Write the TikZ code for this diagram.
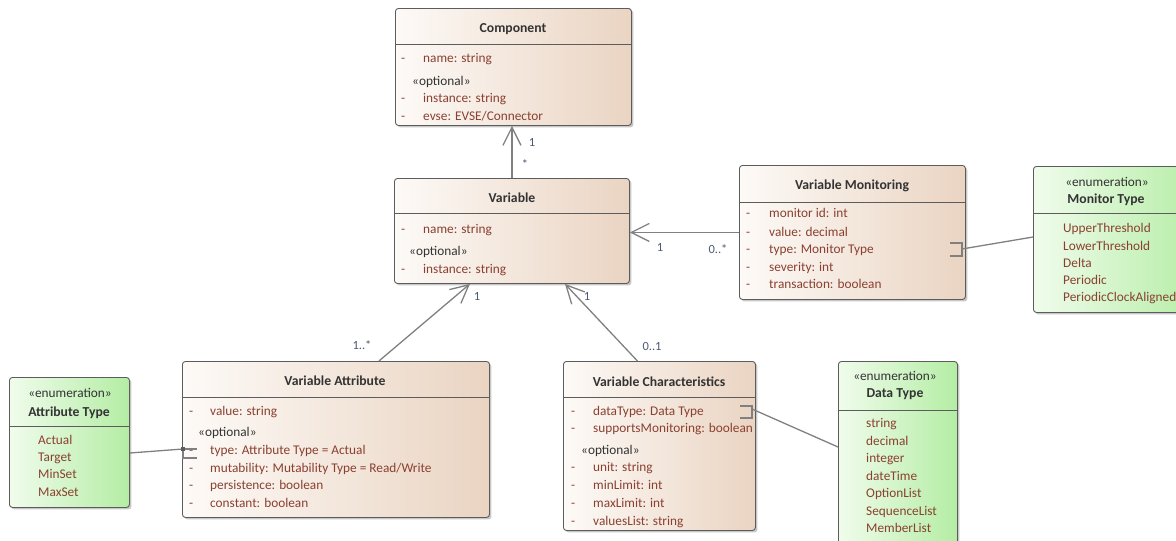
\documentclass[tikz,border=0pt]{standalone}
\usepackage{fontspec}
\setmainfont{Carlito}
\usetikzlibrary{arrows.meta,shadows}
\definecolor{clsL}{HTML}{FDFAF7}
\definecolor{clsR}{HTML}{EAD4C2}
\definecolor{enL}{HTML}{F0FCEC}
\definecolor{enR}{HTML}{B4EDA4}
\definecolor{bord}{HTML}{5C5C5C}
\definecolor{attrc}{HTML}{8A4030}
\definecolor{titc}{HTML}{333333}
\definecolor{linec}{HTML}{808080}
\definecolor{labc}{HTML}{4A5A72}
\begin{document}
\begin{tikzpicture}[x=1pt,y=-1pt,
  box/.style={draw=bord, line width=0.9pt, rounded corners=3pt, anchor=north west, inner sep=0pt,
    drop shadow={shadow xshift=2pt,shadow yshift=-2pt,fill=black,opacity=0.22}},
  cls/.style={box, left color=clsL, right color=clsR},
  enumbox/.style={box, left color=enL, right color=enR},
  sep/.style={draw=bord, line width=0.8pt},
  ttl/.style={font=\fontsize{13.7}{15}\selectfont\bfseries, text=titc, inner sep=0pt, anchor=base, yshift=-4.6pt},
  st/.style={font=\fontsize{13.3}{15}\selectfont, text=titc, inner sep=0pt, anchor=base, yshift=-4.4pt},
  stw/.style={st, anchor=base west},
  attrtxt/.style={font=\fontsize{13.3}{15}\selectfont, text=attrc, anchor=base west, inner sep=0pt, yshift=-4.4pt},
  assoc/.style={draw=linec, line width=1.3pt},
  arr/.style={assoc, -{Straight Barb[length=18pt,width=18pt,line width=1.3pt]}},
  mult/.style={font=\fontsize{12.5}{14}\selectfont, text=labc, inner sep=0pt}]
\useasboundingbox (0,0) rectangle (1176,541);
\clip (0,0) rectangle (1176,541);

% ---------- Component ----------
\node[cls, minimum width=236pt, minimum height=117pt] (comp) at (395,8) {};
\draw[sep] (comp.west |- 0,44) -- (comp.east |- 0,44);
\node[ttl] (compT) at (513,28) {Component};
\node[attrtxt] (compD1) at (401,58) {-};
\node[attrtxt] (compA1) at (423,58) {name: string};
\node[stw] (compO) at (412,81) {«optional»};
\node[attrtxt] (compD2) at (401,98) {-};
\node[attrtxt] (compA2) at (423,98) {instance: string};
\node[attrtxt] (compD3) at (401,116) {-};
\node[attrtxt] (compA3) at (423,116) {evse: EVSE/Connector};

% ---------- Variable ----------
\node[cls, minimum width=235pt, minimum height=105pt] (var) at (394,178) {};
\draw[sep] (var.west |- 0,213) -- (var.east |- 0,213);
\node[ttl] (varT) at (512,198) {Variable};
\node[attrtxt] (varD1) at (401,229) {-};
\node[attrtxt] (varA1) at (423,229) {name: string};
\node[stw] (varO) at (409,251) {«optional»};
\node[attrtxt] (varD2) at (401,269) {-};
\node[attrtxt] (varA2) at (423,269) {instance: string};

% ---------- Variable Monitoring ----------
\node[cls, minimum width=226pt, minimum height=134pt] (vm) at (739,165) {};
\draw[sep] (vm.west |- 0,202) -- (vm.east |- 0,202);
\node[ttl] (vmT) at (852,185) {Variable Monitoring};
\node[attrtxt] (vmD1) at (746,213) {-};
\node[attrtxt] (vmA1) at (769,213) {monitor id: int};
\node[attrtxt] (vmD2) at (746,232) {-};
\node[attrtxt] (vmA2) at (769,232) {value: decimal};
\node[attrtxt] (vmD3) at (746,249) {-};
\node[attrtxt] (vmA3) at (769,249) {type: Monitor Type};
\node[attrtxt] (vmD4) at (746,267) {-};
\node[attrtxt] (vmA4) at (769,267) {severity: int};
\node[attrtxt] (vmD5) at (746,284) {-};
\node[attrtxt] (vmA5) at (769,284) {transaction: boolean};

% ---------- Monitor Type ----------
\node[enumbox, minimum width=170pt, minimum height=146pt] (mt) at (1033,166) {};
\draw[sep] (mt.west |- 0,213) -- (1176,213);
\node[st] (mtS) at (1107,182) {«enumeration»};
\node[ttl] (mtT) at (1106,199) {Monitor Type};
\node[attrtxt] (mt1) at (1063,228) {UpperThreshold};
\node[attrtxt] (mt2) at (1063,246) {LowerThreshold};
\node[attrtxt] (mt3) at (1063,263) {Delta};
\node[attrtxt] (mt4) at (1063,280) {Periodic};
\node[attrtxt] (mt5) at (1063,297) {PeriodicClockAligned};

% ---------- Attribute Type ----------
\node[enumbox, minimum width=120pt, minimum height=130pt] (atyp) at (9,377) {};
\draw[sep] (atyp.west |- 0,426) -- (atyp.east |- 0,426);
\node[st] (atS) at (70,393) {«enumeration»};
\node[ttl] (atT) at (69,412) {Attribute Type};
\node[attrtxt] (at1) at (38,440) {Actual};
\node[attrtxt] (at2) at (38,457) {Target};
\node[attrtxt] (at3) at (38,474) {MinSet};
\node[attrtxt] (at4) at (38,492) {MaxSet};

% ---------- Variable Attribute ----------
\node[cls, minimum width=307pt, minimum height=156pt] (va) at (182,361) {};
\draw[sep] (va.west |- 0,397) -- (va.east |- 0,397);
\node[ttl] (vaT) at (335,381) {Variable Attribute};
\node[attrtxt] (vaD1) at (189,411) {-};
\node[attrtxt] (vaA1) at (210,411) {value: string};
\node[stw] (vaO) at (198,432) {«optional»};
\node[attrtxt] (vaD2) at (189,450) {-};
\node[attrtxt] (vaA2) at (210,450) {type: Attribute Type = Actual};
\node[attrtxt] (vaD3) at (189,468) {-};
\node[attrtxt] (vaA3) at (210,468) {mutability: Mutability Type = Read/Write};
\node[attrtxt] (vaD4) at (189,485) {-};
\node[attrtxt] (vaA4) at (210,485) {persistence: boolean};
\node[attrtxt] (vaD5) at (189,503) {-};
\node[attrtxt] (vaA5) at (210,503) {constant: boolean};

% ---------- Variable Characteristics ----------
\node[cls, minimum width=192pt, minimum height=169pt] (vc) at (563,361) {};
\draw[sep] (vc.west |- 0,397) -- (vc.east |- 0,397);
\node[ttl] (vcT) at (659,382) {Variable Characteristics};
\node[attrtxt] (vcD1) at (571,411) {-};
\node[attrtxt] (vcA1) at (593,411) {dataType: Data Type};
\node[attrtxt] (vcD2) at (571,428) {-};
\node[attrtxt] (vcA2) at (593,428) {supportsMonitoring: boolean};
\node[stw] (vcO) at (581,450) {«optional»};
\node[attrtxt] (vcD3) at (571,467) {-};
\node[attrtxt] (vcA3) at (593,467) {unit: string};
\node[attrtxt] (vcD4) at (571,485) {-};
\node[attrtxt] (vcA4) at (593,485) {minLimit: int};
\node[attrtxt] (vcD5) at (571,503) {-};
\node[attrtxt] (vcA5) at (593,503) {maxLimit: int};
\node[attrtxt] (vcD6) at (571,521) {-};
\node[attrtxt] (vcA6) at (593,521) {valuesList: string};

% ---------- Data Type ----------
\node[enumbox, minimum width=119pt, minimum height=200pt] (dt) at (838,361) {};
\draw[sep] (dt.west |- 0,410) -- (dt.east |- 0,410);
\node[st] (dtS) at (895,376) {«enumeration»};
\node[ttl] (dtT) at (895,393) {Data Type};
\node[attrtxt] (dt1) at (866,423) {string};
\node[attrtxt] (dt2) at (866,441) {decimal};
\node[attrtxt] (dt3) at (866,458) {integer};
\node[attrtxt] (dt4) at (866,476) {dateTime};
\node[attrtxt] (dt5) at (866,493) {OptionList};
\node[attrtxt] (dt6) at (866,511) {SequenceList};
\node[attrtxt] (dt7) at (866,528) {MemberList};

% ---------- Associations ----------
\draw[arr] (var.north) -- (var.north |- comp.south);
\node[mult] (m1) at (532,142) {1};
\node[mult] (m2) at (525,164) {*};

\draw[arr] (vm.west) -- (vm.west -| var.east);
\node[mult] (m3) at (660,247) {1};
\node[mult] (m4) at (718,249) {0..*};

\draw[arr] ([xshift=43pt]va.north) -- ([xshift=-42pt]var.south);
\node[mult] (m5) at (477,296) {1};
\node[mult] (m6) at (362,345) {1..*};

\draw[arr] ([xshift=-22pt]vc.north) -- ([xshift=53pt]var.south);
\node[mult] (m7) at (587,296) {1};
\node[mult] (m8) at (652,346) {0..1};

% ---------- attribute-type links ----------
\coordinate (vmB) at (962,249);
\coordinate (mtB) at (1033,237);
\draw[assoc, line width=1.1pt] (950,243) -- (962,243) -- (962,256) -- (950,256);
\draw[assoc] (vmB) -- (mtB);

\coordinate (vcB) at (752,409);
\coordinate (dtB) at (838,447);
\draw[assoc, line width=1.1pt] (740,406) -- (752,406) -- (752,418) -- (740,418);
\draw[assoc] (vcB) -- (dtB);

\coordinate (atB) at (atyp.east |- 0,453);
\coordinate (vaB) at (183,449);
\draw[assoc, line width=1.1pt] (197,449) -- (183,449) -- (183,458) -- (197,458);
\draw[assoc] (atB) -- (vaB);
\fill[bord] (vaB) ++(-1.8,-1.8) rectangle ++(3.6,3.6);
\end{tikzpicture}
\end{document}
